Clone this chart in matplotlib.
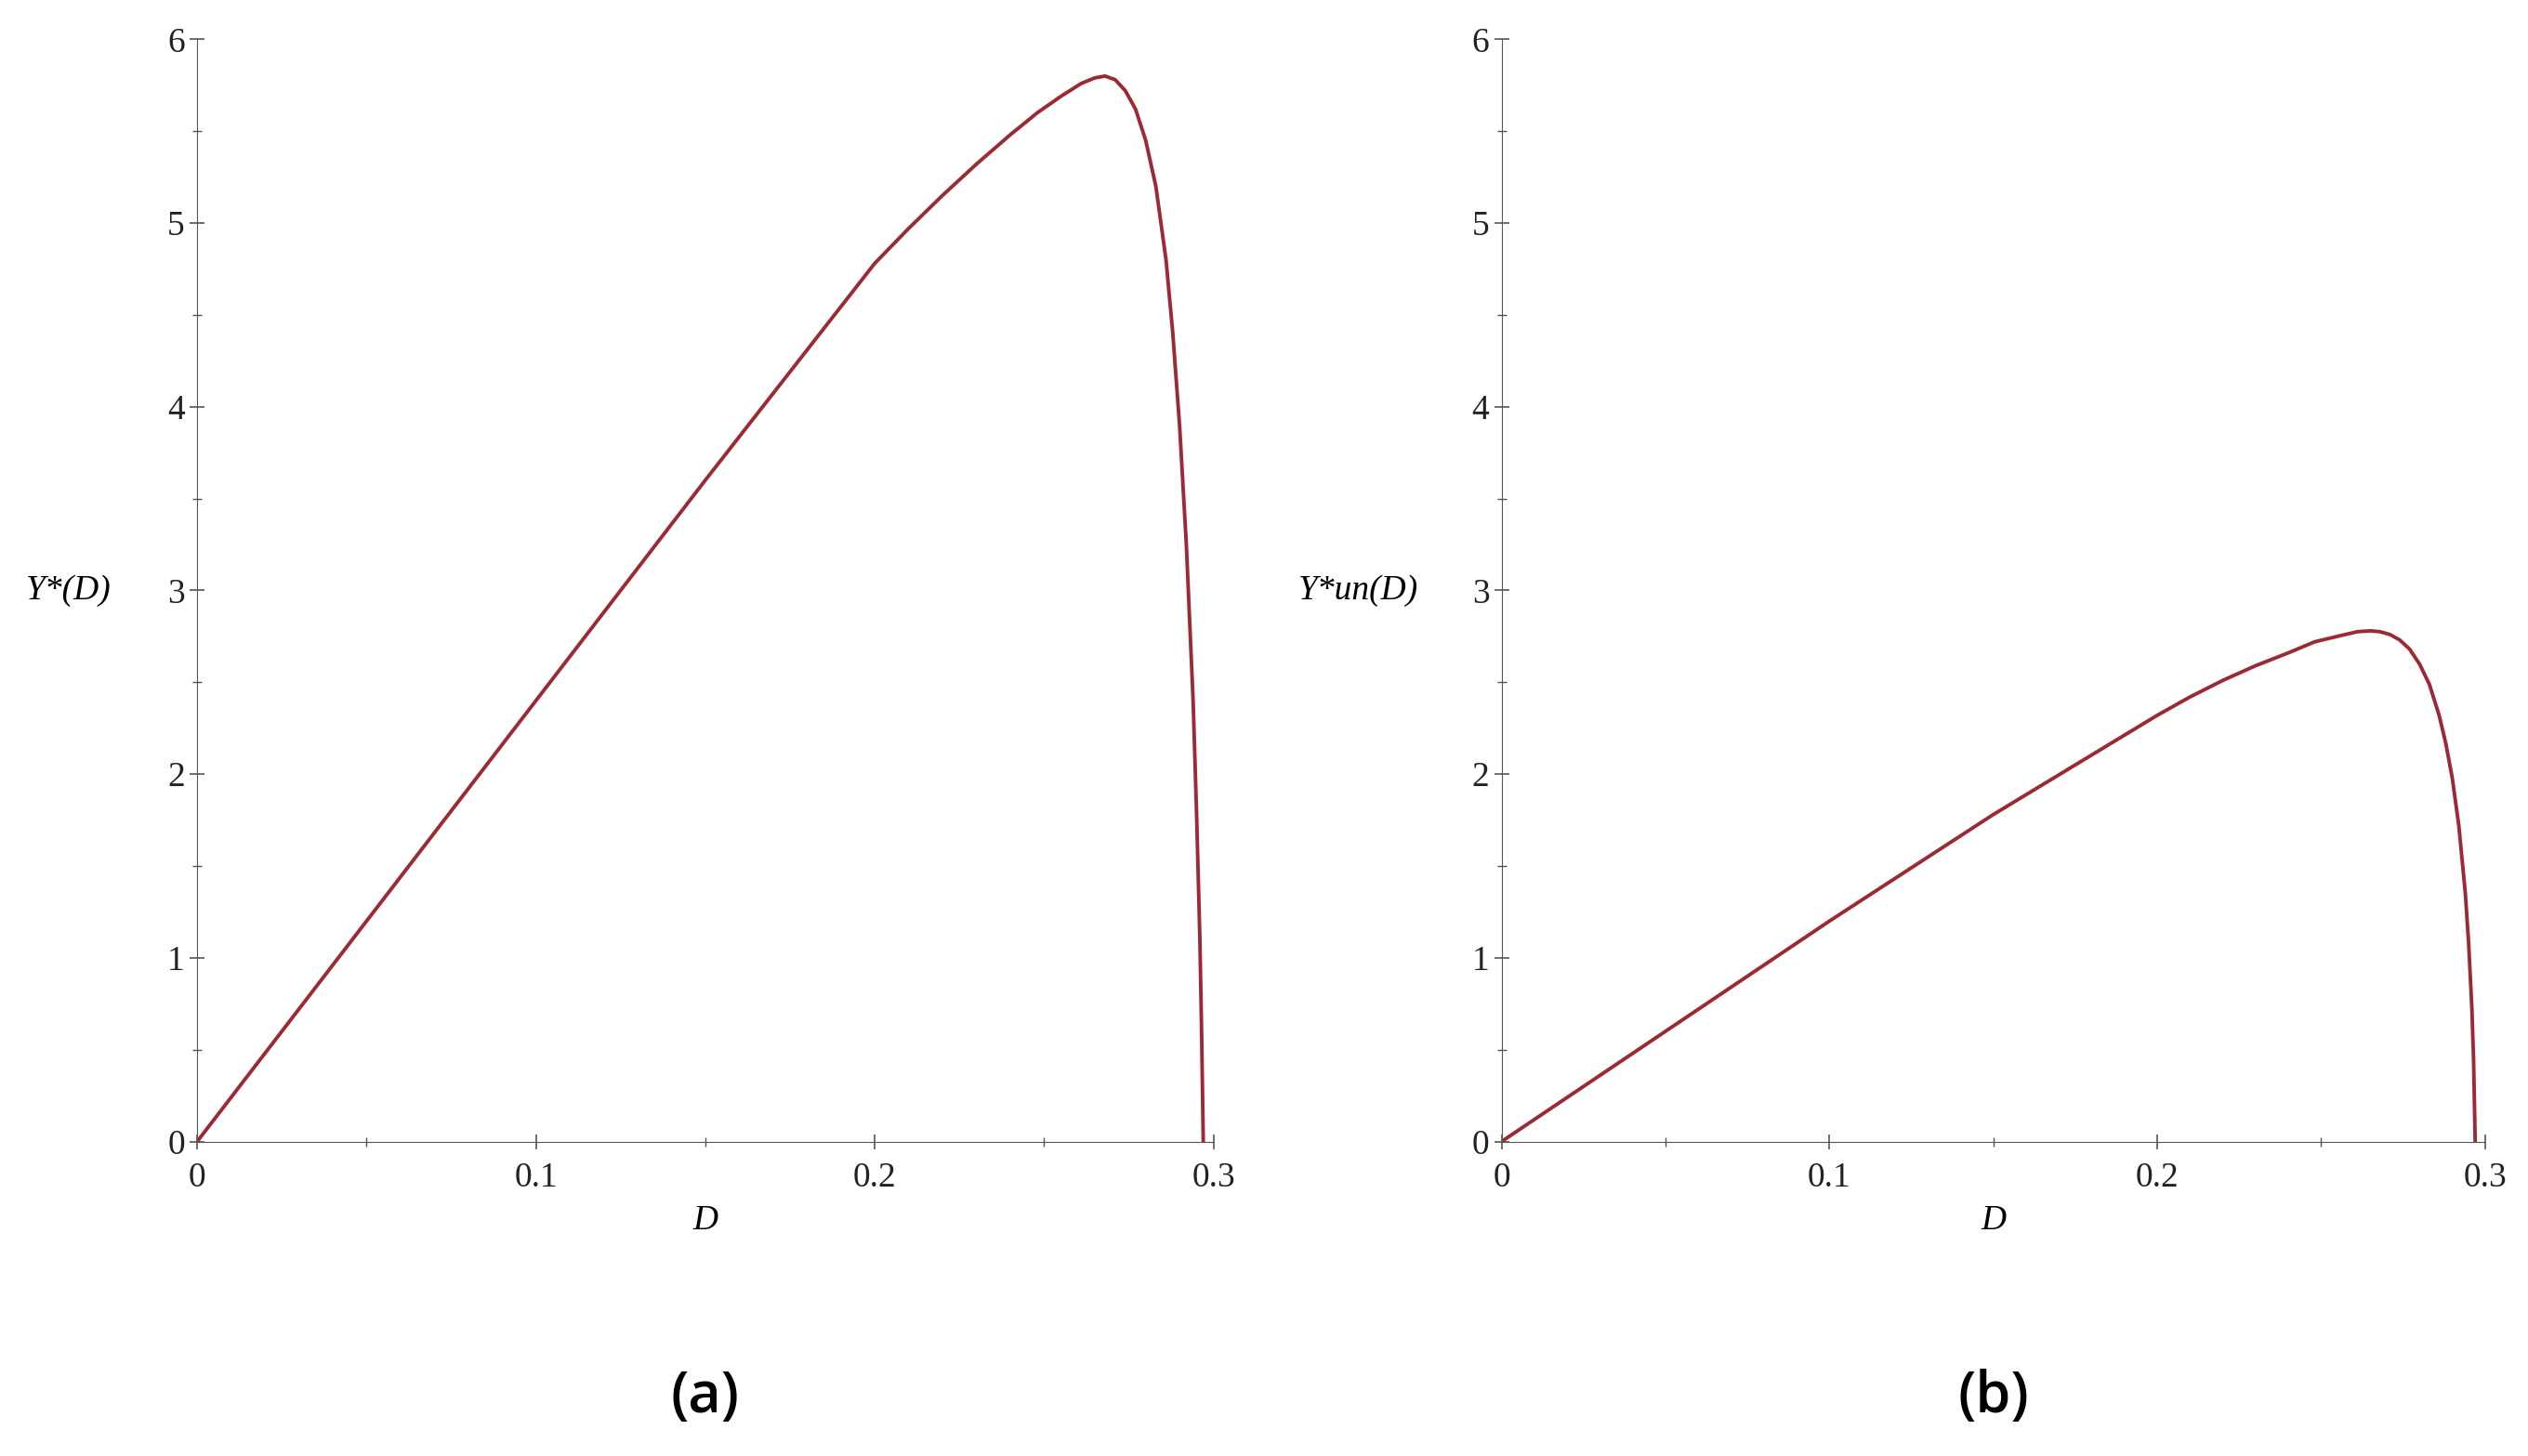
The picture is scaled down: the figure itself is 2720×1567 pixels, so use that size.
import matplotlib

matplotlib.use("Agg")
import matplotlib.pyplot as plt
from matplotlib.ticker import MultipleLocator, FuncFormatter

# values
d_a = [0, 0.05, 0.1, 0.15, 0.2, 0.21, 0.22, 0.23, 0.24, 0.248, 0.255, 0.261, 0.265,
       0.268, 0.271, 0.274, 0.277, 0.28, 0.283, 0.286, 0.288, 0.29, 0.292, 0.294,
       0.295, 0.296, 0.2965, 0.297]
y_a = [0, 1.2, 2.4, 3.6, 4.78, 4.97, 5.15, 5.32, 5.48, 5.6, 5.69, 5.76, 5.79,
       5.8, 5.78, 5.72, 5.62, 5.45, 5.2, 4.8, 4.4, 3.9, 3.25, 2.4,
       1.8, 1.1, 0.6, 0]
d_b = [0, 0.05, 0.1, 0.15, 0.2, 0.21, 0.22, 0.23, 0.24, 0.248, 0.255, 0.261, 0.265,
       0.268, 0.271, 0.274, 0.277, 0.28, 0.283, 0.286, 0.288, 0.29, 0.292, 0.294,
       0.295, 0.296, 0.2965, 0.297]
y_b = [0, 0.6, 1.2, 1.78, 2.32, 2.42, 2.51, 2.59, 2.66, 2.72, 2.75, 2.775, 2.78,
       2.775, 2.76, 2.73, 2.68, 2.6, 2.49, 2.32, 2.17, 1.98, 1.72, 1.35,
       1.08, 0.72, 0.45, 0]

ylabels = ["Y*(D)", "Y*un(D)"]
captions = ["(a)", "(b)"]
color = "#9b2a35"

fig = plt.figure(figsize=(27.2, 15.67), dpi=100)
boxes = [(0.078, 0.216, 0.402, 0.757), (0.594, 0.216, 0.389, 0.757)]
series = [(d_a, y_a), (d_b, y_b)]

for box, (xs, ys), ylab, cap in zip(boxes, series, ylabels, captions):
    ax = fig.add_axes(box)
    ax.plot(xs, ys, color=color, lw=2.8, solid_joinstyle="round")
    ax.set_xlim(0, 0.3)
    ax.set_ylim(0, 6)
    for s in ("top", "right"):
        ax.spines[s].set_visible(False)
    ax.spines["left"].set_color("#555555")
    ax.spines["bottom"].set_color("#555555")
    ax.xaxis.set_major_locator(MultipleLocator(0.1))
    ax.xaxis.set_minor_locator(MultipleLocator(0.05))
    ax.yaxis.set_major_locator(MultipleLocator(1))
    ax.yaxis.set_minor_locator(MultipleLocator(0.5))
    ax.xaxis.set_major_formatter(FuncFormatter(lambda v, p: "0" if v == 0 else f"{v:.1f}"))
    ax.tick_params(which="both", direction="inout", color="#555555", labelsize=27,
                   labelcolor="#222222")
    ax.tick_params(which="major", length=12, width=1.2)
    ax.tick_params(which="minor", length=7, width=1)
    ax.tick_params(axis="x", pad=10)
    for t in ax.get_xticklabels() + ax.get_yticklabels():
        t.set_fontfamily("Liberation Serif")
    ax.set_xlabel("D", fontsize=27, fontstyle="italic", family="Liberation Serif",
                  labelpad=8)
    ax.set_ylabel(ylab, fontsize=27, fontstyle="italic", family="Liberation Serif",
                  rotation=0, ha="right", va="center")
    ax.yaxis.set_label_coords(-0.085, 0.5)
    ax.text(0.5, -0.232, cap, transform=ax.transAxes, ha="center", va="center",
            fontsize=44, family="Open Sans", fontweight="semibold")

fig.savefig("out.png", dpi=100)
